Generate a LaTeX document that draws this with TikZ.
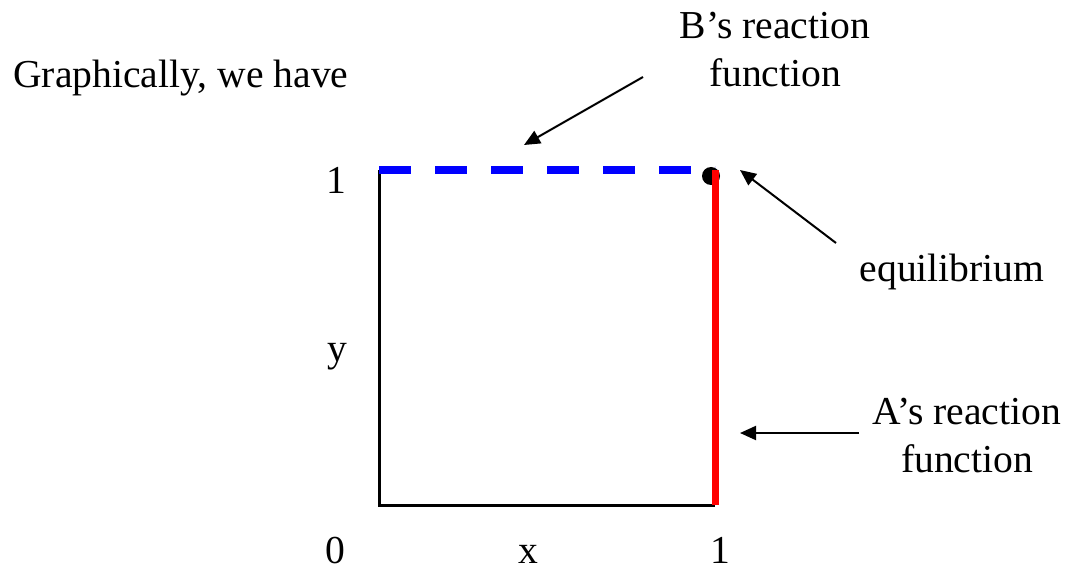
\documentclass[tikz,border=0pt]{standalone}
\usepackage{fontspec}
\setmainfont{Liberation Serif}
\usepackage{tikz}
\usetikzlibrary{arrows.meta}
\definecolor{rfblue}{HTML}{0000FF}
\definecolor{rfred}{HTML}{FF0000}

\begin{document}
\begin{tikzpicture}[
    x=0.5pt, y=-0.5pt,
    every node/.style={font=\fontsize{19.8}{24}\selectfont, inner sep=0pt},
    lbl/.style={anchor=base, align=center},
    axis/.style={draw=black, line width=1.5pt},
    bresp/.style={draw=rfblue, line width=4pt, dash pattern=on 16pt off 12pt},
    aresp/.style={draw=rfred, line width=3.5pt},
    pointer/.style={-{Triangle[length=8pt, width=7pt]}, draw=black, line width=1pt}
]
    \useasboundingbox (0,0) rectangle (1068,572);

    % Axes
    \coordinate (origin) at (379,505);
    \coordinate (ytop) at (379,170);
    \coordinate (xend) at (715,505);
    \coordinate (corner) at (715,170);
    \draw[axis] (ytop) -- (origin) -- (xend);

    % Reaction functions and equilibrium
    \draw[bresp] (ytop) -- (corner);
    \fill (711,176) circle[radius=4.5pt] coordinate (eq);
    \draw[aresp] (corner) -- (xend);

    % Labels (base = last line)
    \node[lbl, anchor=base west] (graph) at (13,88) {Graphically, we have};
    \node[lbl] (brf) at (775,87) {B’s reaction\\function};
    \node[lbl] (eqlbl) at (952,281) {equilibrium};
    \node[lbl] (arf) at (967,472) {A’s reaction\\function};
    \node[lbl] (yone) at (336,193) {1};
    \node[lbl] (ylbl) at (337,361) {y};
    \node[lbl] (xzero) at (335,563) {0};
    \node[lbl] (xlbl) at (528,563) {x};
    \node[lbl] (xone) at (720,563) {1};

    % Arrows
    \coordinate (btail) at (643,77);
    \coordinate (btip) at (524,145);
    \coordinate (eqtail) at (836,243);
    \coordinate (eqtip) at (740,170);
    \coordinate (atail) at (859,433);
    \coordinate (atip) at (740,433);
    \draw[pointer] (btail) -- (btip);
    \draw[pointer] (eqtail) -- (eqtip);
    \draw[pointer] (atail) -- (atip);
\end{tikzpicture}
\end{document}
